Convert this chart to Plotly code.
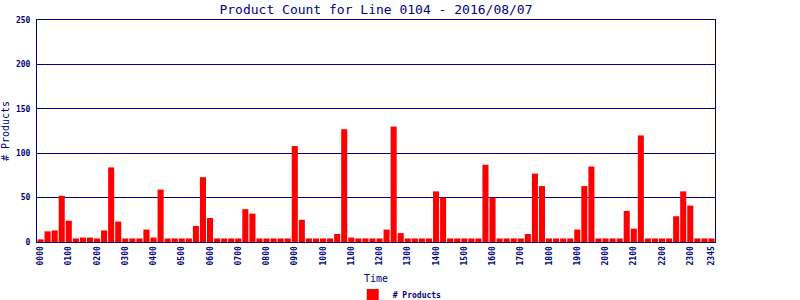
import plotly.graph_objects as go

times = [f"{h:02d}{m:02d}" for h in range(24) for m in (0, 15, 30, 45)]
counts = [3, 12, 13, 52, 24, 4, 5, 5, 4, 13, 84, 23, 4, 4, 4, 14,
          5, 59, 4, 4, 4, 4, 18, 73, 27, 4, 4, 4, 4, 37, 32, 4,
          4, 4, 4, 4, 108, 25, 4, 4, 4, 4, 9, 127, 5, 4, 4, 4,
          4, 14, 130, 10, 4, 4, 4, 4, 57, 50, 4, 4, 4, 4, 4, 87,
          50, 4, 4, 4, 4, 9, 77, 63, 4, 4, 4, 4, 14, 63, 85, 4,
          4, 4, 4, 35, 15, 120, 4, 4, 4, 4, 29, 57, 41, 4, 4, 4]
tick_labels = [f"{h:02d}00" for h in range(24)] + ["2345"]
y_ticks = [0, 50, 100, 150, 200, 250]

NAVY = "#000080"
MONO = "DejaVu Sans Mono"

fig = go.Figure()
fig.add_trace(go.Bar(
    x=times, y=counts, name="# Products",
    marker=dict(color="#FF0000", line=dict(width=0)),
    showlegend=True,
))

fig.update_layout(
    width=800, height=300,
    margin=dict(l=37, r=85, t=20, b=58, autoexpand=False),
    paper_bgcolor="white", plot_bgcolor="white",
    bargap=0.14,
    title=dict(text="Product Count for Line 0104 - 2016/08/07",
               x=0.5, xref="paper", xanchor="center",
               y=0.97, yref="container", yanchor="middle",
               font=dict(family=MONO, size=13, color=NAVY)),
    legend=dict(orientation="h", x=0.535, xref="paper", xanchor="center",
                y=-0.239, yanchor="middle",
                font=dict(family=MONO, size=8, color=NAVY, weight="bold")),
    font=dict(family=MONO, color=NAVY),
)
fig.update_xaxes(
    type="category", categoryorder="array", categoryarray=times,
    tickmode="array", tickvals=tick_labels, ticktext=tick_labels,
    tickangle=-90, tickfont=dict(family=MONO, size=8, color=NAVY, weight="bold"),
    showline=True, linecolor=NAVY, linewidth=1, mirror=True,
    showgrid=False, ticks="", ticklen=0, automargin=False,
    title=dict(text="Time", font=dict(family=MONO, size=10, color=NAVY), standoff=10),
)
fig.update_yaxes(
    range=[0, 250], tickvals=y_ticks,
    tickfont=dict(family=MONO, size=8, color=NAVY, weight="bold"),
    showline=True, linecolor=NAVY, linewidth=1, mirror=True,
    showgrid=True, gridcolor=NAVY, gridwidth=1, zeroline=False,
    ticks="", ticklabelstandoff=4, automargin=False,
    title=dict(text="# Products", font=dict(family=MONO, size=10, color=NAVY), standoff=4),
)

fig.write_html("out.html")
